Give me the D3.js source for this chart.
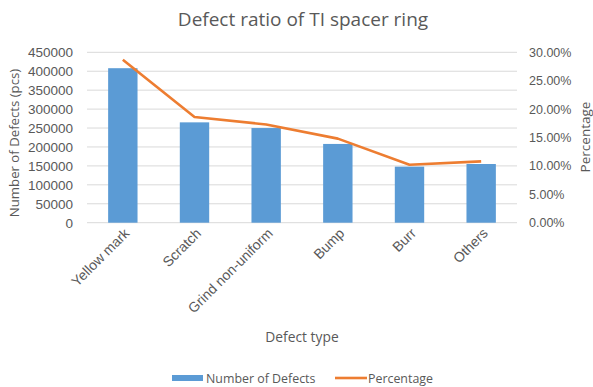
<!DOCTYPE html>
<html>
<head>
<meta charset="utf-8">
<script src="https://cdn.jsdelivr.net/npm/d3@7"></script>
<style>
  html, body { margin: 0; padding: 0; background: #fff; }
  svg { display: block; font-family: "Open Sans", "Liberation Sans", sans-serif; }
</style>
</head>
<body>
<svg id="chart" width="593" height="387"></svg>
<script>
// Defect categories, counts and share of total
const categories = ["Yellow mark", "Scratch", "Grind non-uniform", "Bump", "Burr", "Others"];
const defectCounts = [408000, 265000, 250000, 208000, 148000, 155000];
const percentages = [0.287, 0.186, 0.173, 0.148, 0.102, 0.108];
const countTicks = [0, 50000, 100000, 150000, 200000, 250000, 300000, 350000, 400000, 450000];
const pctTicks = [0, 0.05, 0.10, 0.15, 0.20, 0.25, 0.30];

const svg = d3.select("#chart");
const textColor = "#595959";
const blue = "#5B9BD5";
const orange = "#ED7D31";

const plot = { left: 87, right: 517, top: 52.3, bottom: 222.7 };

const x = d3.scaleBand().domain(categories).range([plot.left, plot.right]).paddingInner(0.59).paddingOuter(0.295);
const yL = d3.scaleLinear().domain([0, 450000]).range([plot.bottom, plot.top]);
const yR = d3.scaleLinear().domain([0, 0.30]).range([plot.bottom, plot.top]);

// Gridlines
svg.append("g").selectAll("line").data(countTicks).join("line")
  .attr("x1", plot.left).attr("x2", plot.right)
  .attr("y1", d => yL(d)).attr("y2", d => yL(d))
  .attr("stroke", "#d9d9d9").attr("stroke-width", 1);

// Bars
svg.append("g").selectAll("rect").data(categories).join("rect")
  .attr("x", d => x(d))
  .attr("y", (d, i) => yL(defectCounts[i]))
  .attr("width", x.bandwidth())
  .attr("height", (d, i) => yL(0) - yL(defectCounts[i]))
  .attr("fill", blue);

// Percentage line
const line = d3.line()
  .x((d, i) => x(categories[i]) + x.bandwidth() / 2)
  .y(d => yR(d));
svg.append("path").datum(percentages)
  .attr("d", line)
  .attr("fill", "none")
  .attr("stroke", orange)
  .attr("stroke-width", 2.6)
  .attr("stroke-linejoin", "round");

// Left axis
const leftAxis = svg.append("g").attr("transform", `translate(${plot.left - 14},0)`)
  .call(d3.axisLeft(yL).tickValues(countTicks).tickSize(0).tickPadding(0).tickFormat(d3.format("d")));
leftAxis.select(".domain").remove();
leftAxis.selectAll("text").attr("fill", textColor).style("font-size", "13.5px");

// Right axis
const rightAxis = svg.append("g").attr("transform", `translate(${plot.right + 12},0)`)
  .call(d3.axisRight(yR).tickValues(pctTicks).tickSize(0).tickPadding(0).tickFormat(d3.format(".2%")));
rightAxis.select(".domain").remove();
rightAxis.selectAll("text").attr("fill", textColor).style("font-size", "12.5px");

// Category labels
const xAxis = svg.append("g").attr("transform", `translate(0,${plot.bottom + 8})`)
  .call(d3.axisBottom(x).tickSize(0).tickPadding(0));
xAxis.select(".domain").remove();
xAxis.selectAll("text")
  .attr("fill", textColor)
  .style("font-size", "14px")
  .attr("text-anchor", "end")
  .attr("dy", "0.35em")
  .attr("transform", "translate(4,0) rotate(-45)");

// Titles
svg.append("text").attr("x", 303).attr("y", 26).attr("text-anchor", "middle")
  .attr("fill", textColor).style("font-size", "19px").text("Defect ratio of TI spacer ring");

svg.append("text").attr("x", 302).attr("y", 342).attr("text-anchor", "middle")
  .attr("fill", textColor).style("font-size", "13.8px").text("Defect type");

svg.append("text").attr("transform", `translate(19,143) rotate(-90)`)
  .attr("text-anchor", "middle").attr("fill", textColor).style("font-size", "13.2px")
  .text("Number of Defects (pcs)");

svg.append("text").attr("transform", `translate(590,137) rotate(-90)`)
  .attr("text-anchor", "middle").attr("fill", textColor).style("font-size", "13.5px")
  .text("Percentage");

// Legend
const legend = svg.append("g").attr("transform", "translate(0,378)");
legend.append("rect").attr("x", 172).attr("y", -3).attr("width", 31).attr("height", 6).attr("fill", blue);
legend.append("text").attr("x", 206).attr("y", 4.5).attr("fill", textColor)
  .style("font-size", "12.4px").text("Number of Defects");
legend.append("line").attr("x1", 335).attr("x2", 367).attr("y1", 0).attr("y2", 0)
  .attr("stroke", orange).attr("stroke-width", 2.6);
legend.append("text").attr("x", 368).attr("y", 4.5).attr("fill", textColor)
  .style("font-size", "12.4px").text("Percentage");
</script>
</body>
</html>
